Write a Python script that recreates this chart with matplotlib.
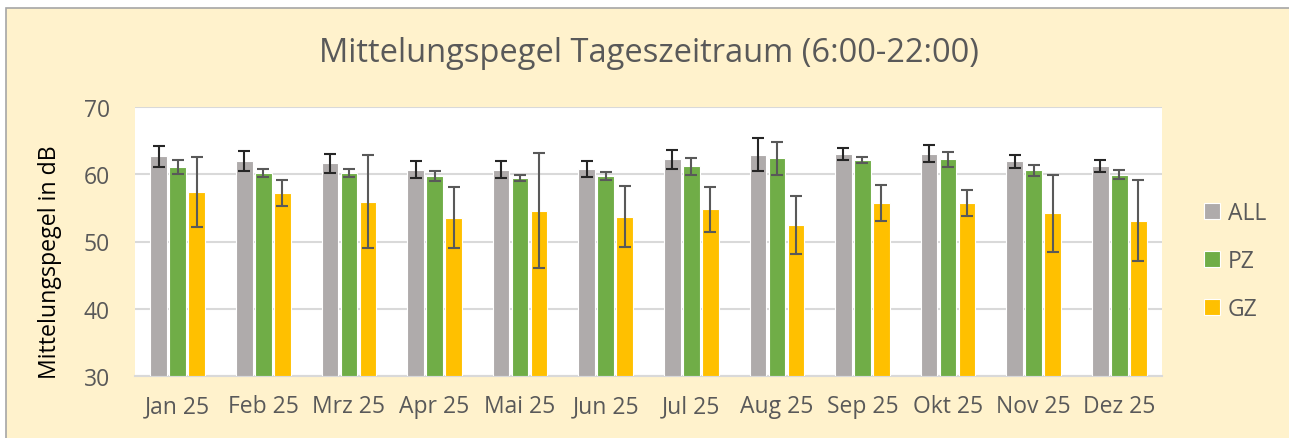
import matplotlib
matplotlib.use("Agg")
import matplotlib.pyplot as plt
import numpy as np
from matplotlib.patches import Rectangle

plt.rcParams['font.family'] = ['Open Sans', 'DejaVu Sans']

months = ["Jan 25", "Feb 25", "Mrz 25", "Apr 25", "Mai 25", "Jun 25",
          "Jul 25", "Aug 25", "Sep 25", "Okt 25", "Nov 25", "Dez 25"]
series = ["ALL", "PZ", "GZ"]
all_vals = [62.7, 62.0, 61.6, 60.7, 60.7, 60.8, 62.2, 62.9, 63.0, 63.05, 61.9, 61.2]
all_err  = [1.55, 1.5, 1.35, 1.3, 1.25, 1.15, 1.4, 2.45, 0.85, 1.25, 1.0, 0.9]
pz_vals  = [61.1, 60.2, 60.2, 59.8, 59.45, 59.75, 61.2, 62.4, 62.1, 62.2, 60.6, 59.95]
pz_err   = [1.0, 0.55, 0.6, 0.75, 0.5, 0.6, 1.25, 2.45, 0.5, 1.15, 0.8, 0.65]
gz_vals  = [57.4, 57.2, 55.9, 53.55, 54.6, 53.7, 54.8, 52.4, 55.7, 55.7, 54.2, 53.1]
gz_err   = [5.2, 1.9, 6.9, 4.55, 8.6, 4.5, 3.35, 4.3, 2.7, 1.95, 5.75, 6.05]
yticks = [30, 40, 50, 60, 70]

colors = ["#AFABAB", "#70AD47", "#FFC000"]
err_colors = ["#262626", "#595959", "#595959"]
bg = "#FFF2CC"
txt = "#595959"

fig = plt.figure(figsize=(12.89, 4.39), dpi=100)
fig.patch.set_facecolor("white")
# chart area background with border (cropped at right/bottom)
fig.patches.append(Rectangle((6/1289, -0.1), 1.2, 1 - 9/439 + 0.1,
                             transform=fig.transFigure, facecolor=bg,
                             edgecolor="#A6A6A6", linewidth=1.2, zorder=-10))

ax = fig.add_axes([135/1289, 1 - 377/439, 1027/1289, 269/439])
ax.set_facecolor("white")

x = np.arange(len(months))
w = 0.195
off = 0.222
data = [(all_vals, all_err), (pz_vals, pz_err), (gz_vals, gz_err)]
for i, (vals, errs) in enumerate(data):
    xi = x + (i - 1) * off
    ax.bar(xi, np.array(vals) - 30, bottom=30, width=w, color=colors[i],
           edgecolor="white", linewidth=0.8, label=series[i], zorder=3)
    ax.errorbar(xi, vals, yerr=errs, fmt="none", ecolor=err_colors[i],
                elinewidth=1.5, capsize=4.5, capthick=1.5, zorder=4)

ax.set_ylim(30, 70)
ax.set_xlim(-0.5, len(months) - 0.5)
ax.set_yticks(yticks)
ax.set_yticklabels([str(t) for t in yticks])
ax.set_xticks(x)
ax.set_xticklabels(months)
ax.tick_params(axis="both", length=0, labelsize=16.5, labelcolor=txt)
ax.tick_params(axis="y", pad=18)
ax.tick_params(axis="x", pad=13)
ax.grid(axis="y", color="#D9D9D9", linewidth=1.5, zorder=0)
for s in ["left", "right", "top"]:
    ax.spines[s].set_visible(False)
ax.spines["bottom"].set_color("#D9D9D9")
ax.spines["bottom"].set_linewidth(1.5)

ax.set_ylabel("Mittelungspegel in dB", fontsize=16.7, color="black")
ax.yaxis.set_label_coords(-0.071, (377 - 262) / 269)

fig.text(649/1289, 1 - 54/439, "Mittelungspegel Tageszeitraum (6:00-22:00)",
         ha="center", va="center", fontsize=23.5, color=txt)

handles, labels = ax.get_legend_handles_labels()
leg = fig.legend(handles, labels, loc="center left",
                 bbox_to_anchor=(1183/1289, 1 - 262/439), frameon=False,
                 fontsize=16.5, handlelength=0.7, handleheight=0.7,
                 handletextpad=0.35, labelspacing=1.05, labelcolor=txt)
for h in leg.legend_handles:
    h.set_edgecolor("white")

fig.savefig("out.png", dpi=100, facecolor=fig.get_facecolor())
